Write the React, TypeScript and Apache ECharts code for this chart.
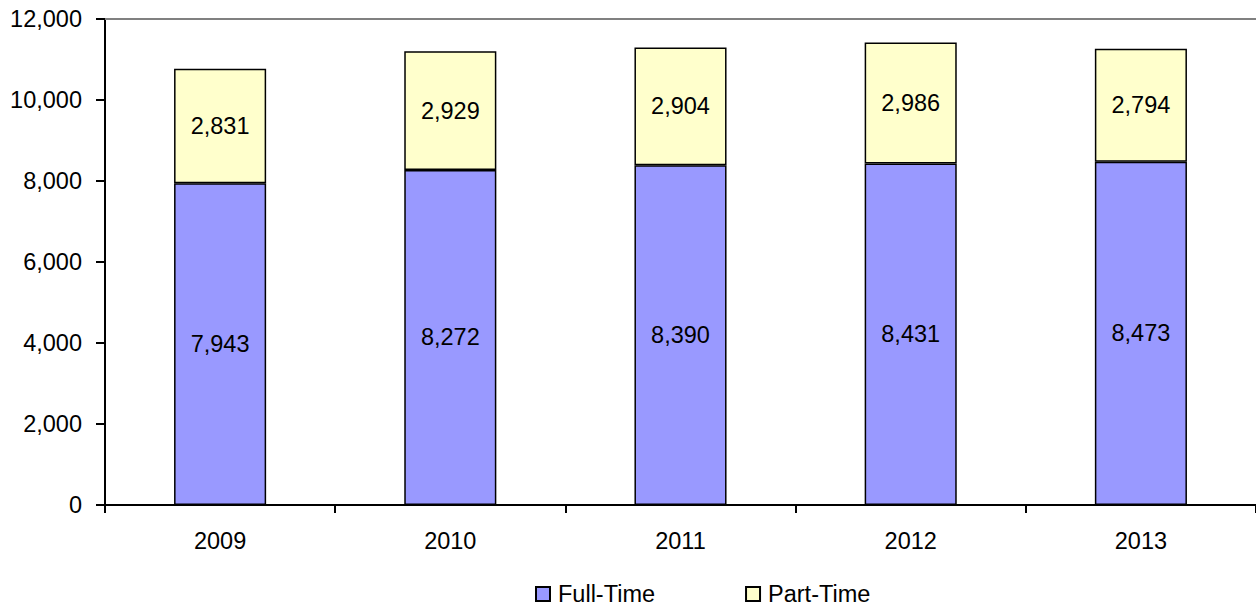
import React, { useEffect, useRef } from "react";
import * as echarts from "echarts";

const categories = ["2009", "2010", "2011", "2012", "2013"];
const fullTime = [7943, 8272, 8390, 8431, 8473];
const partTime = [2831, 2929, 2904, 2986, 2794];
const seriesNames = ["Full-Time", "Part-Time"];

const FONT = "'Liberation Sans', Arial, Helvetica, sans-serif";
const FS = 23.5;
const fmt = (v: number) => v.toLocaleString("en-US");

export default function App() {
  const ref = useRef<HTMLDivElement>(null);
  useEffect(() => {
    document.body.style.margin = "0";
    if (!ref.current) return;
    const chart = echarts.init(ref.current, undefined, { renderer: "svg" });
    chart.setOption({
      animation: false,
      backgroundColor: "#ffffff",
      textStyle: { fontFamily: FONT },
      grid: { left: 105, right: -2, top: 19, bottom: 101, containLabel: false },
      legend: {
        data: seriesNames,
        bottom: 0,
        left: 535,
        padding: 0,
        itemWidth: 14,
        itemHeight: 14,
        itemGap: 90,
        icon: "rect",
        textStyle: { fontSize: FS, color: "#000", fontFamily: FONT, padding: [0, 0, 0, 3] },
      },
      xAxis: [
        {
          type: "category",
          data: categories,
          axisLine: { show: true, lineStyle: { color: "#000", width: 2 } },
          axisTick: { show: true, alignWithLabel: false, length: 8, lineStyle: { color: "#000", width: 2 } },
          axisLabel: { fontSize: FS, color: "#000", margin: 24, fontFamily: FONT },
          splitLine: { show: false },
        },
        {
          type: "category",
          data: categories,
          position: "top",
          axisLine: { show: true, lineStyle: { color: "#808080", width: 2 } },
          axisTick: { show: false },
          axisLabel: { show: false },
          splitLine: { show: false },
        },
      ],
      yAxis: {
        type: "value",
        min: 0,
        max: 12000,
        interval: 2000,
        axisLine: { show: true, lineStyle: { color: "#000", width: 2 } },
        axisTick: { show: true, length: 9, lineStyle: { color: "#000", width: 2 } },
        axisLabel: {
          fontSize: FS,
          color: "#000",
          margin: 23,
          fontFamily: FONT,
          formatter: (v: number) => fmt(v),
        },
        splitLine: { show: false },
      },
      series: [
        {
          name: seriesNames[0],
          type: "bar",
          stack: "total",
          data: fullTime,
          barWidth: "40%",
          itemStyle: { color: "#9999FF", borderColor: "#000", borderWidth: 1.5 },
          label: {
            show: true,
            position: "inside",
            fontSize: FS,
            color: "#000",
            fontFamily: FONT,
            formatter: (p: any) => fmt(p.value),
          },
        },
        {
          name: seriesNames[1],
          type: "bar",
          stack: "total",
          data: partTime,
          barWidth: "40%",
          itemStyle: { color: "#FFFFCC", borderColor: "#000", borderWidth: 1.5 },
          label: {
            show: true,
            position: "inside",
            fontSize: FS,
            color: "#000",
            fontFamily: FONT,
            formatter: (p: any) => fmt(p.value),
          },
        },
      ],
    });
    return () => chart.dispose();
  }, []);
  return <div ref={ref} style={{ width: 1256, height: 606 }} />;
}
